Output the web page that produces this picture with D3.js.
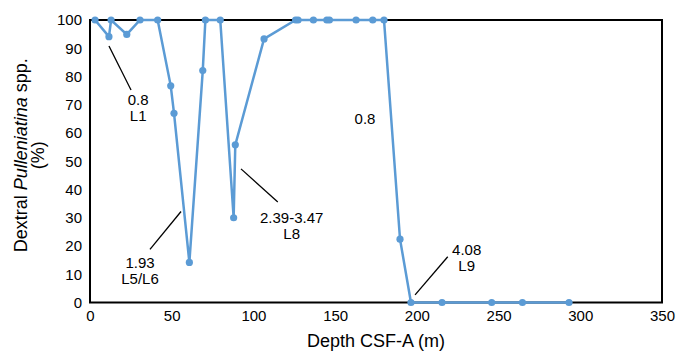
<!DOCTYPE html>
<html>
<head>
<meta charset="utf-8">
<script src="https://cdn.jsdelivr.net/npm/d3@7"></script>
<style>
  body { margin: 0; background: #fff; }
  text { font-family: "Liberation Sans", Arial, Helvetica, sans-serif; fill: #000; }
</style>
</head>
<body>
<div id="chart"></div>
<script>
// Depth CSF-A (m) vs dextral Pulleniatina %
var depths = [3.1, 11.6, 12.9, 22.5, 30.6, 41.4, 49.4, 51.4, 60.8, 69.0, 70.6, 79.7, 87.9, 88.9, 106.5,
  125.8, 127.3, 136.7, 144.9, 146.5, 162.8, 173.0, 179.9, 189.7, 196.4, 215.4, 245.8, 264.6, 293.1]
var dextral = [100, 94.1, 100, 94.9, 100, 100, 76.7, 67.0, 14.2, 82.1, 100, 100, 30.0, 55.8, 93.3,
  100, 100, 100, 100, 100, 100, 100, 100, 22.4, 0, 0, 0, 0, 0]
var xTicks = [0, 50, 100, 150, 200, 250, 300, 350]
var yTicks = [0, 10, 20, 30, 40, 50, 60, 70, 80, 90, 100]

// annotation labels: [depth, value] for text anchor, and leader line ends
var notes = [
  {lines: ["0.8", "L1"], at: [29.5, 71.6], from: [11.6, 90.8], to: [25.1, 75.2]},
  {lines: ["1.93", "L5/L6"], at: [30.6, 14.2], from: [55.7, 32.2], to: [36.7, 18.8]},
  {lines: ["2.39-3.47", "L8"], at: [123.4, 30.0], from: [92.4, 47.3], to: [114.9, 35.6]},
  {lines: ["0.8"], at: [168.3, 65.2]},
  {lines: ["4.08", "L9"], at: [230.5, 18.5], from: [218.9, 16.2], to: [198.9, 2.7]}
]

const margin = {top: 20, right: 15, bottom: 49.5, left: 90},
    width = 677 - margin.left - margin.right,
    height = 352 - margin.top - margin.bottom

var svg = d3.select("#chart")
  .append("svg")
  .attr("width", 677)
  .attr("height", 352)
  .append("g")
  .attr("transform", "translate(" + margin.left + "," + margin.top + ")")

var x = d3.scaleLinear().domain([0, 350]).range([0, width])
var y = d3.scaleLinear().domain([0, 100]).range([height, 0])

// frame
svg.append("rect")
  .attr("x", 0).attr("y", 0)
  .attr("width", width).attr("height", height)
  .attr("fill", "none")
  .attr("stroke", "#000")
  .attr("stroke-width", 2)

// x axis
svg.append("g")
  .attr("transform", "translate(0," + height + ")")
  .call(d3.axisBottom(x).tickValues(xTicks).tickSize(0).tickPadding(8))
  .call(g => g.select(".domain").remove())
  .selectAll("text")
  .style("font-size", "15px")

// y axis
svg.append("g")
  .call(d3.axisLeft(y).tickValues(yTicks).tickSize(0).tickPadding(8))
  .call(g => g.select(".domain").remove())
  .selectAll("text")
  .style("font-size", "15px")

// axis titles
svg.append("text")
  .attr("x", width / 2)
  .attr("y", height + 44)
  .attr("text-anchor", "middle")
  .style("font-size", "18px")
  .text("Depth CSF-A (m)")

var ytitle = svg.append("text")
  .attr("transform", "translate(-63," + (height / 2 - 6) + ") rotate(-90)")
  .attr("text-anchor", "middle")
  .style("font-size", "18px")
ytitle.append("tspan").attr("x", 0).attr("dy", 0).text("Dextral ")
ytitle.append("tspan").style("font-style", "italic").text("Pulleniatina")
ytitle.append("tspan").text(" spp.")
ytitle.append("tspan").attr("x", 0).attr("dy", 17).text("(%)")

// series
var pts = depths.map((d, i) => [d, dextral[i]])

svg.append("path")
  .datum(pts)
  .attr("fill", "none")
  .attr("stroke", "#5b9bd5")
  .attr("stroke-width", 2.5)
  .attr("d", d3.line().x(d => x(d[0])).y(d => y(d[1])))

svg.append("g")
  .selectAll("circle")
  .data(pts)
  .enter()
  .append("circle")
  .attr("cx", d => x(d[0]))
  .attr("cy", d => y(d[1]))
  .attr("r", 3.6)
  .attr("fill", "#5b9bd5")

// annotations
notes.forEach(function(n) {
  if (n.from) {
    svg.append("line")
      .attr("x1", x(n.from[0])).attr("y1", y(n.from[1]))
      .attr("x2", x(n.to[0])).attr("y2", y(n.to[1]))
      .attr("stroke", "#000")
      .attr("stroke-width", 1.3)
  }
  n.lines.forEach(function(t, i) {
    svg.append("text")
      .attr("x", x(n.at[0]))
      .attr("y", y(n.at[1]) + i * 16)
      .attr("text-anchor", "middle")
      .attr("dy", "0.35em")
      .style("font-size", "15px")
      .text(t)
  })
})
</script>
</body>
</html>
